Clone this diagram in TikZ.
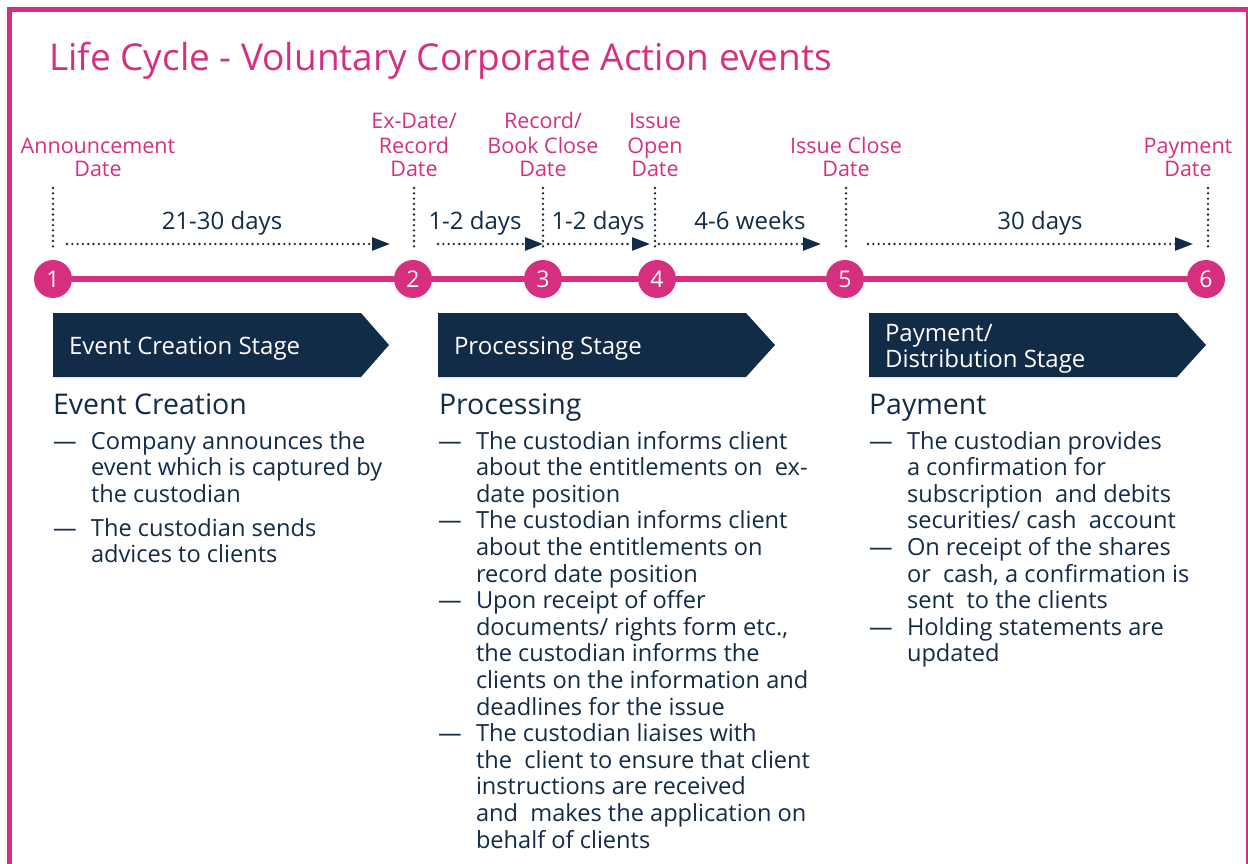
\documentclass[tikz,border=0pt]{standalone}
\usepackage{fontspec}
\setmainfont{Open Sans}
\usetikzlibrary{arrows.meta}
\definecolor{kpink}{RGB}{214,47,128}
\definecolor{knavy}{RGB}{18,43,71}
\newcommand{\bl}{\makebox[38pt][l]{—}}
\newcommand{\ind}{\makebox[38pt]{}}
\begin{document}
\begin{tikzpicture}[x=1pt,y=-1pt,
  every node/.style={inner sep=0pt,outer sep=0pt},
  datelbl/.style={text=kpink,font=\fontsize{21.5}{24}\selectfont,anchor=base},
  durlbl/.style={text=knavy,font=\fontsize{24}{28}\selectfont,anchor=base},
  circ/.style={circle,fill=kpink,minimum size=38pt,text=white,font=\fontsize{23}{26}\selectfont},
  tline/.style={draw=kpink,line width=5.5pt},
  dotline/.style={draw=knavy,line width=2.6pt,line cap=round,dash pattern=on 0pt off 5.3pt},
  durarrow/.style={dotline,-{Triangle[length=18pt,width=13pt,line cap=butt]}},
  chevron/.style={fill=knavy},
  stagetext/.style={text=white,font=\fontsize{24}{26.6}\selectfont,anchor=base west},
  heading/.style={text=knavy,font=\fontsize{28.5}{32}\selectfont,anchor=base west},
  bodytext/.style={text=knavy,font=\fontsize{23.6}{26.6}\selectfont,anchor=base west}
]
\useasboundingbox (0,0) rectangle (1248,864);
% frame
\draw[kpink,line width=5pt] (9.5,900) -- (9.5,9.5) -- (1248.5,9.5) -- (1248.5,900);

% title
\node[anchor=base west,text=kpink,font=\fontsize{37}{44}\selectfont] (title) at (49,71) {Life Cycle - Voluntary Corporate Action events};

% date labels
\node[datelbl] (d1) at (98,177) {\begin{tabular}[b]{@{}c@{}}Announcement\\Date\end{tabular}};
\node[datelbl] (d2) at (414,177) {\begin{tabular}[b]{@{}c@{}}Ex-Date/\\Record\\Date\end{tabular}};
\node[datelbl] (d3) at (543,177) {\begin{tabular}[b]{@{}c@{}}Record/\\Book Close\\Date\end{tabular}};
\node[datelbl] (d4) at (655,177) {\begin{tabular}[b]{@{}c@{}}Issue\\Open\\Date\end{tabular}};
\node[datelbl] (d5) at (846,177) {\begin{tabular}[b]{@{}c@{}}Issue Close\\Date\end{tabular}};
\node[datelbl] (d6) at (1188,177) {\begin{tabular}[b]{@{}c@{}}Payment\\Date\end{tabular}};

% dotted verticals
\foreach \i/\x in {1/53,2/414,3/543,4/655,5/846,6/1208}{
  \coordinate (vt\i) at (\x,188);
  \coordinate (vb\i) at (\x,250);
  \draw[dotline] (vt\i) -- (vb\i);
}

% duration labels
\node[durlbl] (l1) at (222,229) {21-30 days};
\node[durlbl] (l2) at (475,229) {1-2 days};
\node[durlbl] (l3) at (598,229) {1-2 days};
\node[durlbl] (l4) at (750,229) {4-6 weeks};
\node[durlbl] (l5) at (1040,229) {30 days};

% duration arrows
\coordinate (a1s) at (67,244);  \coordinate (a1e) at (390,244);
\coordinate (a2s) at (438,244); \coordinate (a2e) at (543,244);
\coordinate (a3s) at (548,244); \coordinate (a3e) at (650,244);
\coordinate (a4s) at (659,244); \coordinate (a4e) at (821,244);
\coordinate (a5s) at (868,244); \coordinate (a5e) at (1193,244);
\foreach \i in {1,...,5}{\draw[durarrow] (a\i s) -- (a\i e);}

% timeline circles
\node[circ] (c1) at (53,279) {1};
\node[circ] (c2) at (413,279) {2};
\node[circ] (c3) at (543,279) {3};
\node[circ] (c4) at (657,279) {4};
\node[circ] (c5) at (845,279) {5};
\node[circ] (c6) at (1206,279) {6};
\draw[tline] (c1) -- (c2);
\draw[tline] (c2) -- (c3);
\draw[tline] (c3) -- (c4);
\draw[tline] (c4) -- (c5);
\draw[tline] (c5) -- (c6);

% stage chevrons
\fill[chevron] (53,313) -- (361,313) -- (389,345) -- (361,377) -- (53,377) -- cycle;
\fill[chevron] (438,313) -- (746,313) -- (775,345) -- (746,377) -- (438,377) -- cycle;
\fill[chevron] (869,313) -- (1177,313) -- (1206,345) -- (1177,377) -- (869,377) -- cycle;
\node[stagetext] (s1) at (69,354) {Event Creation Stage};
\node[stagetext] (s2) at (454,354) {Processing Stage};
\node[stagetext] (s3) at (885,341) {\begin{tabular}[t]{@{}l@{}}Payment/\\Distribution Stage\end{tabular}};

% headings
\node[heading] (h1) at (53,414) {Event Creation};
\node[heading] (h2) at (439,414) {Processing};
\node[heading] (h3) at (869,414) {Payment};

% body texts
\node[bodytext] (b1) at (53,449) {\begin{tabular}[t]{@{}l@{}}
\bl Company announces the\\
\ind event which is captured by\\
\ind the custodian\\[7.2pt]
\bl The custodian sends\\
\ind advices to clients
\end{tabular}};

\node[bodytext] (b2) at (438,449) {\begin{tabular}[t]{@{}l@{}}
\bl The custodian informs client\\
\ind about the entitlements on\ \ ex-\\
\ind date position\\
\bl The custodian informs client\\
\ind about the entitlements on\\
\ind record date position\\
\bl Upon receipt of offer\\
\ind documents/ rights form etc.,\\
\ind the custodian informs the\\
\ind clients on the information and\\
\ind deadlines for the issue\\
\bl The custodian liaises with\\
\ind the\ \ client to ensure that client\\
\ind instructions are received\\
\ind and\ \ makes the application on\\
\ind behalf of clients
\end{tabular}};

\node[bodytext] (b3) at (869,449) {\begin{tabular}[t]{@{}l@{}}
\bl The custodian provides\\
\ind a confirmation for\\
\ind subscription\ \ and debits\\
\ind securities/ cash\ \ account\\
\bl On receipt of the shares\\
\ind or\ \ cash, a confirmation is\\
\ind sent\ \ to the clients\\
\bl Holding statements are\\
\ind updated
\end{tabular}};
\end{tikzpicture}
\end{document}
